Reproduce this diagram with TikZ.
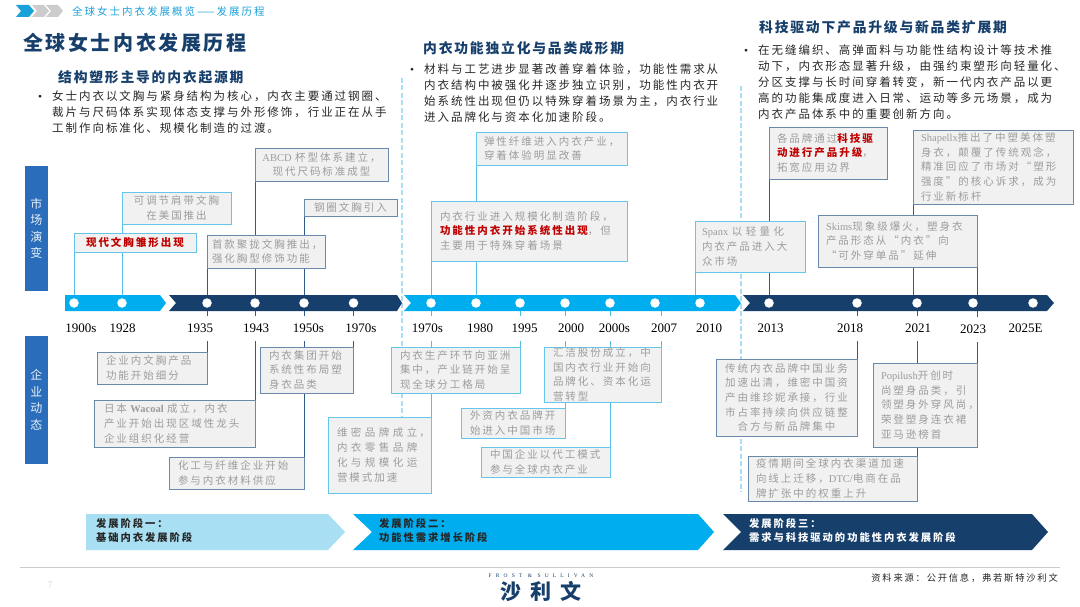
\documentclass[tikz,border=0pt]{standalone}
\usepackage{fontspec}
\setmainfont{Noto Sans CJK SC}
\newfontfamily\cnA[LetterSpace=19]{Noto Sans CJK SC}
\newfontfamily\cnB[LetterSpace=17]{Noto Sans CJK SC}
\newfontfamily\cnC[LetterSpace=13]{Noto Sans CJK SC}
\newfontfamily\cnD[LetterSpace=42]{Noto Sans CJK SC}
\newfontfamily\latfont{Liberation Serif}
\newfontfamily\latwide[LetterSpace=75]{Liberation Serif}
\newcommand\lat[1]{{\latfont #1}}
\definecolor{navy}{HTML}{173F6B}
\definecolor{cyanb}{HTML}{00AEEF}
\definecolor{paleb}{HTML}{A8DFF2}
\definecolor{sideb}{HTML}{2A6EBB}
\definecolor{headc}{HTML}{1BA1DA}
\definecolor{bdark}{HTML}{6A88AA}
\definecolor{blight}{HTML}{66C6EA}
\definecolor{ldark}{HTML}{2F5C88}
\definecolor{llight}{HTML}{55BEE6}
\definecolor{boxf}{HTML}{F1F1F1}
\definecolor{txtg}{HTML}{9C9C9C}
\definecolor{redt}{HTML}{C00000}
\definecolor{bodyt}{HTML}{262626}
\pgfdeclarelayer{back}
\pgfsetlayers{back,main}
\tikzset{
 boxbase/.style={draw,fill=boxf,line width=0.9pt,inner ysep=0pt,outer sep=0pt,text=txtg,
   font=\fontsize{10.5}{14.7}\selectfont\cnA,align=left},
 bxd/.style={draw=bdark},
 bxl/.style={draw=blight},
 cen/.style={align=center},
 dot/.style={circle,fill=white,inner sep=0pt,minimum size=9.5pt},
 yr/.style={fill=white,inner xsep=0pt,inner ysep=0pt,minimum height=25pt,font=\fontsize{13}{15}\selectfont\latfont,text=black},
 condk/.style={draw=ldark,line width=0.9pt},
 conlt/.style={draw=llight,line width=0.9pt},
 dashv/.style={draw=paleb,line width=2pt,dash pattern=on 5pt off 2.5pt},
 bodytext/.style={inner sep=0pt,anchor=north west,align=left,text=bodyt,font=\fontsize{11.5}{16}\selectfont\cnB},
 sectitle/.style={inner sep=0pt,anchor=west,text=navy,font=\fontsize{13.8}{16}\selectfont\cnC\bfseries},
 side/.style={fill=sideb,inner sep=0pt,text=white!90!sideb,align=center,font=\fontsize{12}{16.5}\selectfont\cnA},
 phasetext/.style={inner sep=0pt,anchor=west,align=left,font=\fontsize{10.3}{13.5}\selectfont\cnA\bfseries},
}
\newcommand\tlbox[8][8]{%
 \pgfmathsetmacro\myw{#5-#3}\pgfmathsetmacro\myh{#6-#4}\pgfmathsetmacro\mytw{#5-#3-2*#1}%
 \pgfmathsetmacro\mycx{(#3+#5)/2}\pgfmathsetmacro\mycy{(#4+#6)/2}%
 \node[boxbase,#7,minimum width=\myw pt,minimum height=\myh pt,text width=\mytw pt,inner xsep=#1pt] (#2) at (\mycx,\mycy) {#8};}
\newcommand\conn[3]{\draw[#1] (#2) -- (#2 |- #3);}
\begin{document}
\begin{tikzpicture}[x=1pt,y=-1pt]
\useasboundingbox (0,0) rectangle (1080,607);
% header
\fill[headc] (16,5) -- (29,5) -- (34,11) -- (29,17) -- (16,17) -- (21,11) -- cycle;
\fill[gray!40] (32,5) -- (44,5) -- (49,11) -- (44,17) -- (32,17) -- (37,11) -- cycle;
\fill[gray!40] (46,5) -- (58,5) -- (63,11) -- (58,17) -- (46,17) -- (51,11) -- cycle;
\node[inner sep=0pt,anchor=west,text=headc,font=\fontsize{10.5}{12}\selectfont\cnA] (head) at (72,11) {全球女士内衣发展概览——发展历程};
\node[inner sep=0pt,anchor=west,text=navy,font=\fontsize{20}{24}\selectfont\cnC\bfseries] (title) at (23,43) {全球女士内衣发展历程};
% section text
\node[sectitle] (s1) at (58,77) {结构塑形主导的内衣起源期};
\node[bodytext] (s1t) at (52,90.5) {\llap{\lat{•}\hspace{10pt}}女士内衣以文胸与紧身结构为核心，内衣主要通过钢圈、\\裁片与尺码体系实现体态支撑与外形修饰，行业正在从手\\工制作向标准化、规模化制造的过渡。};
\node[sectitle] (s2) at (423,48) {内衣功能独立化与品类成形期};
\node[bodytext] (s2t) at (424,63.5) {\llap{\lat{•}\hspace{10pt}}材料与工艺进步显著改善穿着体验，功能性需求从\\内衣结构中被强化并逐步独立识别，功能性内衣开\\始系统性出现但仍以特殊穿着场景为主，内衣行业\\进入品牌化与资本化加速阶段。};
\node[sectitle] (s3) at (759,27) {科技驱动下产品升级与新品类扩展期};
\node[bodytext] (s3t) at (758,44.5) {\llap{\lat{•}\hspace{10pt}}在无缝编织、高弹面料与功能性结构设计等技术推\\动下，内衣形态显著升级，由强约束塑形向轻量化、\\分区支撑与长时间穿着转变，新一代内衣产品以更\\高的功能集成度进入日常、运动等多元场景，成为\\内衣产品体系中的重要创新方向。};
% side bars
\node[side,minimum width=23pt,minimum height=125pt] (sideA) at (36.5,228.5) {市\\场\\演\\变};
\node[side,minimum width=23pt,minimum height=128pt] (sideB) at (36.5,400) {企\\业\\动\\态};
% timeline
\fill[cyanb] (65,295) -- (160,295) -- (166,303) -- (160,311) -- (65,311) -- cycle;
\fill[navy] (169,295) -- (397,295) -- (402,303) -- (397,311) -- (169,311) -- (176,303) -- cycle;
\fill[cyanb] (404,295) -- (735,295) -- (741,303) -- (735,311) -- (404,311) -- (411,303) -- cycle;
\fill[navy] (743,295) -- (1047,295) -- (1054,303) -- (1047,311) -- (743,311) -- (750,303) -- cycle;
\node[dot] (t1900) at (74,303) {};
\node[dot] (t1928) at (122,303) {};
\node[dot] (t1935) at (207,303) {};
\node[dot] (t1943) at (255,303) {};
\node[dot] (t1950) at (304,303) {};
\node[dot] (t1970) at (353.5,303) {};
\node[dot] (t1970b) at (431,303) {};
\node[dot] (t1980) at (476,303) {};
\node[dot] (t1995) at (520,303) {};
\node[dot] (t2000) at (565,303) {};
\node[dot] (t2000s) at (610,303) {};
\node[dot] (t2007) at (655,303) {};
\node[dot] (t2010) at (700,303) {};
\node[dot] (t2013) at (769,303) {};
\node[dot] (t2018) at (857,303) {};
\node[dot] (t2021) at (917,303) {};
\node[dot] (t2023) at (973,303) {};
\node[dot] (t2025) at (1033,303) {};
% years
\node[yr] (y1900) at (81,328.5) {1900s};
\node[yr] (y1928) at (122.5,328.5) {1928};
\node[yr] (y1935) at (200,328.5) {1935};
\node[yr] (y1943) at (256,328.5) {1943};
\node[yr] (y1950) at (308.5,328.5) {1950s};
\node[yr] (y1970) at (361,328.5) {1970s};
\node[yr] (y1970b) at (427.5,328.5) {1970s};
\node[yr] (y1980) at (480,328.5) {1980};
\node[yr] (y1995) at (524.5,328.5) {1995};
\node[yr] (y2000) at (571,328.5) {2000};
\node[yr] (y2000s) at (614.5,328) {2000s};
\node[yr] (y2007) at (664,328.5) {2007};
\node[yr] (y2010) at (709,328.5) {2010};
\node[yr] (y2013) at (770.5,328.5) {2013};
\node[yr] (y2018) at (850,328.5) {2018};
\node[yr] (y2021) at (918,328) {2021};
\node[yr] (y2023) at (973,329.5) {2023};
\node[yr] (y2025) at (1025.5,328.5) {2025E};
% upper boxes
\tlbox[4]{abcd}{255}{148}{388}{181}{bxd,cen}{\lat{ABCD} 杯型体系建立，\\现代尺码标准成型}
\tlbox{adj}{122}{192}{231}{224}{bxl,cen}{可调节肩带文胸\\在美国推出}
\tlbox{bra}{74}{233}{196}{252}{bxl,cen}{\textcolor{redt}{\bfseries 现代文胸雏形出现}}
\tlbox{wire}{304}{199}{397}{216}{bxd,cen}{钢圈文胸引入}
\tlbox[5]{push}{207}{235}{325}{268}{bxd}{首款聚拢文胸推出，\\强化胸型修饰功能}
\tlbox{elas}{476}{132}{627}{165}{bxl}{弹性纤维进入内衣产业，\\穿着体验明显改善}
\tlbox[9]{scale}{431}{201}{627}{261}{bxl}{内衣行业进入规模化制造阶段，\\\textcolor{redt}{\bfseries 功能性内衣开始系统性出现}，但\\主要用于特殊穿着场景}
\tlbox[7]{spanx}{695}{221}{805}{272}{bxl}{\lat{Spanx}~以~轻~量~化\\内衣产品进入大\\众市场}
\tlbox{tech}{769}{127}{887}{179}{bxd}{各品牌通过\textcolor{redt}{\bfseries 科技驱}\\\textcolor{redt}{\bfseries 动进行产品升级}，\\拓宽应用边界}
\tlbox{shap}{913}{130}{1073}{204}{bxd}{\lat{Shapellx}推出了中塑美体塑\\身衣，颠覆了传统观念，\\精准回应了市场对“塑形\\强度”的核心诉求，成为\\行业新标杆}
\tlbox{skims}{818}{215}{977}{267}{bxd}{\lat{Skims}现象级爆火，塑身衣\\产品形态从“内衣”向\\“可外穿单品”延伸}
% lower boxes
\tlbox[9]{fine}{97}{352}{207}{384}{bxd}{企业内文胸产品\\功能开始细分}
\tlbox[10]{waco}{94}{400}{255}{447}{bxd}{日本~\lat{\bfseries Wacoal}~成立，内衣\\产业开始出现区域性龙头\\企业组织化经营}
\tlbox[9]{grp}{260}{347}{353.5}{393}{bxd}{内衣集团开始\\系统性布局塑\\身衣品类}
\tlbox[9]{chem}{169}{457}{304}{489}{bxd}{化工与纤维企业开始\\参与内衣材料供应}
\tlbox[9]{vs}{328}{417}{431}{493}{bxl}{维~密~品~牌~成~立，\\内~衣~零~售~品~牌\\化~与~规~模~化~运\\营模式加速}
\tlbox[9]{prod}{391}{347}{520}{393}{bxl}{内衣生产环节向亚洲\\集中，产业链开始呈\\现全球分工格局}
\tlbox[9]{hj}{544}{347}{661}{402}{bxl}{汇洁股份成立，中\\国内衣行业开始向\\品牌化、资本化运\\营转型}
\tlbox[9]{fdi}{461}{408}{565}{438}{bxl}{外资内衣品牌开\\始进入中国市场}
\tlbox[9]{oem}{481}{447}{610}{477}{bxl}{中国企业以代工模式\\参与全球内衣产业}
\tlbox[9]{cn}{716}{359}{857}{436}{bxd,cen}{传统内衣品牌中国业务\\加速出清，维密中国资\\产由维珍妮承接，行业\\市占率持续向供应链整\\合方与新品牌集中}
\tlbox[8]{popi}{873}{363}{977}{447}{bxd}{\lat{Popilush}开创时\\尚塑身品类，引\\领塑身外穿风尚，\\荣登塑身连衣裙\\亚马逊榜首}
\tlbox[8]{covid}{748}{456}{917}{501}{bxd}{疫情期间全球内衣渠道加速\\向线上迁移，\lat{DTC/}电商在品\\牌扩张中的权重上升}
% phases
\fill[paleb] (86,514) -- (328,514) -- (345,532) -- (328,550) -- (86,550) -- cycle;
\fill[cyanb] (353,514) -- (698,514) -- (714,532) -- (698,550) -- (353,550) -- (372,532) -- cycle;
\fill[navy] (723,514) -- (1032,514) -- (1048,532) -- (1032,550) -- (723,550) -- (741,532) -- cycle;
\node[phasetext,text=black!85] (p1) at (96,530.5) {发展阶段一：\\基础内衣发展阶段};
\node[phasetext,text=black!85] (p2) at (379,530.5) {发展阶段二：\\功能性需求增长阶段};
\node[phasetext,text=white] (p3) at (749,530.5) {发展阶段三：\\需求与科技驱动的功能性内衣发展阶段};
% footer
\draw[gray!40,line width=0.8pt] (20,567) -- (1060,567);
\node[inner sep=0pt,text=gray!30,font=\fontsize{10}{12}\selectfont\latfont] (page) at (50,585) {7};
\node[inner sep=0pt,text=navy,font=\fontsize{5.5}{6}\selectfont\latwide] (fs) at (541,576) {FROST \& SULLIVAN};
\node[inner sep=0pt,text=navy,font=\fontsize{21}{24}\selectfont\cnD\bfseries] (logo) at (541,591) {沙利文};
\node[inner sep=0pt,anchor=east,text=black!85,font=\fontsize{9.3}{12}\selectfont\cnA] (src) at (1058,578) {资料来源：公开信息，弗若斯特沙利文};
% connectors and dashes behind everything
\begin{pgfonlayer}{back}
\coordinate (da) at (402,78); \coordinate (db) at (402,490);
\coordinate (dc) at (741,86); \coordinate (dd) at (741,492);
\draw[dashv] (da) -- (db);
\draw[dashv] (dc) -- (dd);
\conn{conlt}{bra.south west}{t1900}
\conn{conlt}{adj.south west}{t1928}
\conn{condk}{push.south west}{t1935}
\conn{condk}{abcd.south west}{t1943}
\conn{condk}{wire.south west}{t1950}
\conn{conlt}{scale.south west}{t1970b}
\conn{conlt}{elas.south west}{t1980}
\conn{conlt}{spanx.south west}{t2010}
\conn{condk}{tech.south west}{t2013}
\conn{condk}{shap.south west}{t2021}
\conn{condk}{skims.south east}{t2023}
\conn{condk}{fine.north east}{t1935}
\conn{condk}{waco.north east}{t1943}
\conn{condk}{chem.north east}{t1950}
\conn{condk}{grp.north east}{t1970}
\conn{conlt}{vs.north east}{t1970b}
\conn{conlt}{prod.north east}{t1995}
\conn{conlt}{fdi.north east}{t2000}
\conn{conlt}{oem.north east}{t2000s}
\conn{conlt}{hj.north east}{t2007}
\conn{condk}{cn.north east}{t2018}
\conn{condk}{covid.north east}{t2021}
\conn{condk}{popi.north east}{t2023}
\end{pgfonlayer}
\end{tikzpicture}
\end{document}
